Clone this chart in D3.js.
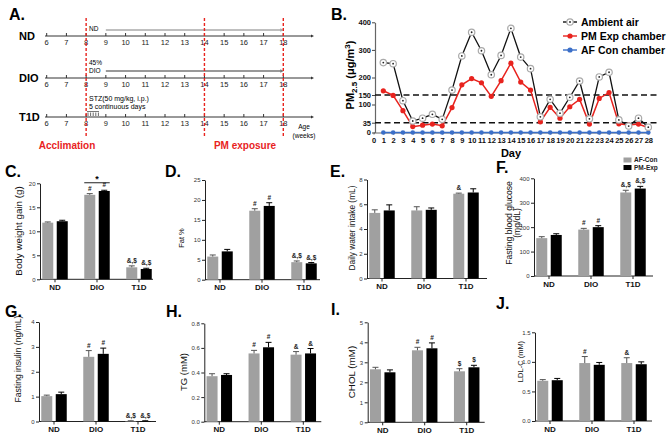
<!DOCTYPE html>
<html><head><meta charset="utf-8">
<script src="https://cdn.jsdelivr.net/npm/d3@7"></script>
<style>body{margin:0;background:#fff}svg{font-family:Arial,"Liberation Sans",sans-serif;display:block}</style>
</head><body>
<svg id="c" width="669" height="439"></svg>
<script>
// ---------- DATA ----------
const weeks = [6,7,8,9,10,11,12,13,14,15,16,17,18];
const timelineRows = ["ND","DIO","T1D"];
const markerWeeks = [8,14,18];
const days = [1,2,3,4,5,6,7,8,9,10,11,12,13,14,15,16,17,18,19,20,21,22,23,24,25,26,27,28];
const dayTicks = [0,1,2,3,4,5,6,7,8,9,10,11,12,13,14,15,16,17,18,19,20,21,22,23,24,25,26,27,28];
const ambientAir   = [254,250,120,41,51,65,47,164,278,364,297,210,280,378,274,232,56,127,69,138,190,49,202,219,45,23,51,19];
const pmExpChamber = [162,148,78,21,26,30,24,89,179,197,185,143,191,252,187,164,38,90,51,92,127,30,132,157,31,27,30,17];
const afConChamber = [0,0,0,0,0,0,0,0,0,0,0,0,0,0,0,0,0,0,0,0,0,0,0,0,0,0,0,0];
const pmTicks = [0,35,100,150,200,300,400];
const pmLimits = [150,35];

const groups = ["ND","DIO","T1D"];
const seriesNames = ["AF-Con","PM-Exp"];

const bwAF = [11.8,17.6,2.5],  bwAFErr = [0.15,0.25,0.3],  bwPM = [12.1,18.4,2.15], bwPMErr = [0.2,0.15,0.15];
const bwAFMark = ["","#","&,$"], bwPMMark = ["","#","&,$"];
const fatAF = [5.8,17.3,4.4], fatAFErr = [0.4,0.5,0.3], fatPM = [7.1,18.5,4.1], fatPMErr = [0.5,0.8,0.2];
const fatAFMark = ["","#","&,$"], fatPMMark = ["","#","&,$"];
const waterAF = [5.3,5.5,6.85], waterAFErr = [0.25,0.3,0.05], waterPM = [5.5,5.55,6.95], waterPMErr = [0.45,0.15,0.3];
const waterAFMark = ["","","&"], waterPMMark = ["","",""];
const gluAF = [155,190,342], gluAFErr = [6,5,9], gluPM = [168,200,358], gluPMErr = [5,6,9];
const gluAFMark = ["","#","&,$"], gluPMMark = ["","#","&,$"];
const insAF = [1.02,2.6,0.02], insAFErr = [0.04,0.25,0.01], insPM = [1.1,2.72,0.02], insPMErr = [0.08,0.23,0.01];
const insAFMark = ["","#","&,$"], insPMMark = ["","#","&,$"];
const tgAF = [0.37,0.555,0.545], tgAFErr = [0.02,0.025,0.025], tgPM = [0.38,0.605,0.555], tgPMErr = [0.01,0.04,0.04];
const tgAFMark = ["","#","&"], tgPMMark = ["","#","&"];
const cholAF = [2.65,3.6,2.55], cholAFErr = [0.1,0.15,0.13], cholPM = [2.5,3.7,2.75], cholPMErr = [0.12,0.27,0.1];
const cholAFMark = ["","#","$"], cholPMMark = ["","#","$"];
const ldlAF = [0.68,0.98,0.98], ldlAFErr = [0.02,0.11,0.09], ldlPM = [0.69,0.95,0.96], ldlPMErr = [0.03,0.04,0.04];
const ldlAFMark = ["","#","&"], ldlPMMark = ["","",""];

// ---------- DRAW ----------
const svg = d3.select("#c");
const RED = "#e8231e", GRAY = "#a0a0a0", BLUE = "#3b6fc8";

function panelLabel(t, x, y){
  svg.append("text").attr("x",x).attr("y",y).attr("font-size",16).attr("font-weight","bold").text(t);
}

// ===== Panel A =====
panelLabel("A.", 9, 20);
const wx = d3.scaleLinear().domain([6,18]).range([46.7,283.3]);
const rowY = {ND:36, DIO:78, T1D:117};
const gA = svg.append("g");
timelineRows.forEach(r=>{
  const y = rowY[r];
  gA.append("line").attr("x1",45).attr("x2",311).attr("y1",y).attr("y2",y).attr("stroke","#333").attr("stroke-width",1);
  gA.append("path").attr("d",`M311,${y-1.5}L314,${y}L311,${y+1.5}Z`).attr("fill","#333");
  gA.selectAll(null).data(weeks).enter().append("line")
    .attr("x1",d=>wx(d)).attr("x2",d=>wx(d)).attr("y1",y-3).attr("y2",y).attr("stroke","#333");
  gA.selectAll(null).data(weeks).enter().append("text")
    .attr("x",d=>wx(d)).attr("y",y+9).attr("text-anchor","middle").attr("font-size",7.5).attr("fill","#222").text(d=>d);
  gA.append("text").attr("x",19).attr("y",y+4).attr("font-size",11).attr("font-weight","bold").text(r);
});
gA.append("text").attr("x",89).attr("y",30.5).attr("font-size",6.5).text("ND");
function arrow(x1,x2,y,col){
  gA.append("line").attr("x1",x1).attr("x2",x2-2).attr("y1",y).attr("y2",y).attr("stroke",col).attr("stroke-width",1.3);
  gA.append("path").attr("d",`M${x2-3},${y-1.7}L${x2+0.5},${y}L${x2-3},${y+1.7}Z`).attr("fill",col);
}
arrow(wx(9), wx(18), 30, "#aaa");
gA.append("text").attr("x",89).attr("y",65).attr("font-size",6.5).text("45%");
gA.append("text").attr("x",89).attr("y",73).attr("font-size",6.5).text("DIO");
arrow(wx(9), wx(18), 71, "#777");
gA.append("text").attr("x",89).attr("y",101).attr("font-size",7).text("STZ(50 mg/kg, i.p.)");
gA.append("text").attr("x",89).attr("y",109).attr("font-size",7).text("5 continuous days");
gA.append("line").attr("x1",87).attr("x2",99).attr("y1",111.5).attr("y2",111.5).attr("stroke","#555").attr("stroke-width",0.8);
[0,1,2,3,4].forEach(i=>{
  const x = 88 + i*2.6;
  gA.append("line").attr("x1",x).attr("x2",x).attr("y1",112.5).attr("y2",116).attr("stroke","#444").attr("stroke-width",0.8);
});
markerWeeks.forEach(w=>{
  gA.append("line").attr("x1",wx(w)).attr("x2",wx(w)).attr("y1",18).attr("y2",137)
    .attr("stroke",RED).attr("stroke-width",1.4).attr("stroke-dasharray","3,2");
});
gA.append("text").attr("x",67).attr("y",149).attr("text-anchor","middle").attr("font-size",10).attr("font-weight","bold").attr("fill",RED).text("Acclimation");
gA.append("text").attr("x",245).attr("y",149).attr("text-anchor","middle").attr("font-size",10).attr("font-weight","bold").attr("fill",RED).text("PM exposure");
gA.append("text").attr("x",304).attr("y",129).attr("text-anchor","middle").attr("font-size",6.5).text("Age");
gA.append("text").attr("x",304).attr("y",137.5).attr("text-anchor","middle").attr("font-size",6.5).text("(weeks)");

// ===== Panel B =====
panelLabel("B.", 331, 20);
const bx = d3.scaleLinear().domain([0,28]).range([373.5,648.3]);
const by = d3.scaleLinear().domain([0,100,150,200,400]).range([132.5,104.5,95,77.5,22.3]);
const gB = svg.append("g");
const yaB = gB.append("g").attr("transform","translate(375,0)")
  .call(d3.axisLeft(by).tickValues(pmTicks).tickSize(3).tickSizeOuter(0));
yaB.select(".domain").attr("stroke","#666").attr("stroke-width",1.2);
yaB.selectAll(".tick line").attr("stroke","#444");
yaB.selectAll(".tick text").attr("font-size",7.5).attr("font-weight","bold").attr("font-family","Arial, Liberation Sans").attr("fill","#111").attr("x",-4);
const xaB = gB.append("g").attr("transform",`translate(0,${by(0)})`)
  .call(d3.axisBottom(bx).tickValues(dayTicks).tickSize(2).tickSizeOuter(0));
xaB.select(".domain").attr("stroke","#666");
xaB.selectAll(".tick line").attr("stroke","#666");
xaB.selectAll(".tick text").attr("font-size",7.5).attr("font-weight","bold").attr("font-family","Arial, Liberation Sans").attr("fill","#111").attr("y",5);
gB.append("text").attr("x",511).attr("y",156.5).attr("text-anchor","middle").attr("font-size",11).attr("font-weight","bold").text("Day");
const yl = gB.append("text").attr("transform","translate(354,75) rotate(-90)").attr("text-anchor","middle")
  .attr("font-size",11).attr("font-weight","bold");
yl.append("tspan").text("PM");
yl.append("tspan").attr("font-size",8).attr("dy",3).text("2.5");
yl.append("tspan").attr("dy",-3).text(" (\u03bcg/m");
yl.append("tspan").attr("font-size",8).attr("dy",-4).text("3");
yl.append("tspan").attr("dy",4).text(")");
pmLimits.forEach(v=>{
  gB.append("line").attr("x1",375).attr("x2",660).attr("y1",by(v)).attr("y2",by(v))
    .attr("stroke","#111").attr("stroke-width",1.5).attr("stroke-dasharray","6,3.5");
});
const line = d3.line().x((d,i)=>bx(days[i])).y(d=>by(d));
gB.append("path").attr("d",line(afConChamber)).attr("fill","none").attr("stroke",BLUE).attr("stroke-width",1.6);
gB.selectAll(null).data(afConChamber).enter().append("circle").attr("cx",(d,i)=>bx(days[i])).attr("cy",d=>by(d)).attr("r",2.3).attr("fill",BLUE);
gB.append("path").attr("d",line(pmExpChamber)).attr("fill","none").attr("stroke",RED).attr("stroke-width",1.5);
gB.selectAll(null).data(pmExpChamber).enter().append("circle").attr("cx",(d,i)=>bx(days[i])).attr("cy",d=>by(d)).attr("r",2.6).attr("fill",RED);
gB.append("path").attr("d",line(ambientAir)).attr("fill","none").attr("stroke","#111").attr("stroke-width",1.3);
gB.selectAll(null).data(ambientAir).enter().append("circle").attr("cx",(d,i)=>bx(days[i])).attr("cy",d=>by(d)).attr("r",3.2).attr("fill","#fff").attr("stroke","#aaa").attr("stroke-width",1.2);
gB.selectAll(null).data(ambientAir).enter().append("circle").attr("cx",(d,i)=>bx(days[i])).attr("cy",d=>by(d)).attr("r",0.9).attr("fill","#222");
const legB = [["Ambient air","amb"],["PM Exp chamber","pm"],["AF Con chamber","af"]];
legB.forEach((l,i)=>{
  const y = 22 + i*14;
  const col = l[1]==="amb" ? "#111" : l[1]==="pm" ? RED : BLUE;
  gB.append("line").attr("x1",563).attr("x2",577).attr("y1",y).attr("y2",y).attr("stroke",col).attr("stroke-width",1.4);
  if(l[1]==="amb"){
    gB.append("circle").attr("cx",570).attr("cy",y).attr("r",3.2).attr("fill","#fff").attr("stroke","#aaa").attr("stroke-width",1.2);
    gB.append("circle").attr("cx",570).attr("cy",y).attr("r",0.9).attr("fill","#222");
  } else {
    gB.append("circle").attr("cx",570).attr("cy",y).attr("r",2.6).attr("fill",col);
  }
  gB.append("text").attr("x",581).attr("y",y+3.7).attr("font-size",10.5).attr("font-weight","bold").text(l[0]);
});

// ===== Bar panels =====
function barPanel(cfg, af, afErr, pm, pmErr, afMark, pmMark){
  const g = svg.append("g");
  panelLabel(cfg.label, cfg.lxp, cfg.lyp);
  const x = d3.scaleBand().domain(groups).range([cfg.x0-6, cfg.x0+120]);
  const xs = d3.scaleBand().domain(seriesNames).range([0, x.bandwidth()]).paddingInner(0.24).paddingOuter(0.57);
  const y = d3.scaleLinear().domain([0,cfg.max]).range([cfg.y0,cfg.y1]);
  const ya = g.append("g").attr("transform",`translate(${cfg.x0},0)`)
    .call(d3.axisLeft(y).tickValues(cfg.ticks).tickSize(3).tickSizeOuter(0).tickFormat(cfg.fmt||d3.format("d")));
  ya.select(".domain").attr("stroke","#222");
  ya.selectAll(".tick line").attr("stroke","#222");
  ya.selectAll(".tick text").attr("font-size",6).attr("font-family","Arial, Liberation Sans").attr("fill","#333").attr("x",-4.5);
  const xa = g.append("g").attr("transform",`translate(0,${cfg.y0})`)
    .call(d3.axisBottom(x).tickSize(3).tickSizeOuter(0));
  xa.select(".domain").remove();
  xa.selectAll(".tick line").attr("stroke","#222");
  xa.selectAll(".tick text").attr("font-size",8).attr("font-weight","bold").attr("font-family","Arial, Liberation Sans").attr("fill","#111").attr("y",5);
  g.append("line").attr("x1",cfg.x0).attr("x2",cfg.x0+cfg.w).attr("y1",cfg.y0).attr("y2",cfg.y0).attr("stroke","#222");
  const series = [[af,afErr,afMark,GRAY,"#555"],[pm,pmErr,pmMark,"#000","#000"]];
  series.forEach((s,si)=>{
    groups.forEach((gname,gi)=>{
      const bx0 = x(gname)+xs(seriesNames[si]), bw = xs.bandwidth(), cx = bx0+bw/2;
      const v = s[0][gi], e = s[1][gi];
      g.append("rect").attr("x",bx0).attr("y",y(v)).attr("width",bw).attr("height",cfg.y0-y(v)).attr("fill",s[3]);
      g.append("line").attr("x1",cx).attr("x2",cx).attr("y1",y(v)).attr("y2",y(v+e)).attr("stroke",s[4]).attr("stroke-width",1);
      g.append("line").attr("x1",cx-3).attr("x2",cx+3).attr("y1",y(v+e)).attr("y2",y(v+e)).attr("stroke",s[4]).attr("stroke-width",1);
      if(s[2][gi]) g.append("text").attr("x",cx).attr("y",y(v+e)-3).attr("text-anchor","middle").attr("font-size",6.5).attr("font-weight","bold").attr("fill","#222").text(s[2][gi]);
    });
  });
  if(cfg.star){
    const gi = groups.indexOf(cfg.star);
    const top = Math.max(af[gi]+afErr[gi], pm[gi]+pmErr[gi]);
    const yy = y(top)-7.5;
    const xL = x(cfg.star)+xs(seriesNames[0]), xR = x(cfg.star)+xs(seriesNames[1])+xs.bandwidth();
    g.append("line").attr("x1",xL).attr("x2",xR).attr("y1",yy).attr("y2",yy).attr("stroke","#222");
    g.append("text").attr("x",(xL+xR)/2).attr("y",yy-1).attr("text-anchor","middle").attr("font-size",9).attr("font-weight","bold").text("*");
  }
  const t = g.append("text").attr("transform",`translate(${cfg.lx},${cfg.ly}) rotate(-90)`).attr("text-anchor","middle")
    .attr("font-size",cfg.fs).attr("fill","#111");
  cfg.ylabel.forEach((s,i)=>{ t.append("tspan").attr("x",0).attr("dy", i===0 ? 0 : cfg.fs*0.95).text(s); });
  return {x, xs, y};
}

barPanel({label:"C.",lxp:5,lyp:177,x0:40,y0:279.3,y1:183.3,max:20,ticks:[0,5,10,15,20],w:113,
  ylabel:["Body weight gain (g)"],lx:21.5,ly:231,fs:9.8,star:"DIO"}, bwAF,bwAFErr,bwPM,bwPMErr,bwAFMark,bwPMMark);
barPanel({label:"D.",lxp:165,lyp:177,x0:205,y0:279.7,y1:180,max:25,ticks:[0,5,10,15,20,25],w:115,
  ylabel:["Fat %"],lx:183.5,ly:238,fs:7.5}, fatAF,fatAFErr,fatPM,fatPMErr,fatAFMark,fatPMMark);
barPanel({label:"E.",lxp:330,lyp:177,x0:367,y0:278.5,y1:179.5,max:8,ticks:[0,2,4,6,8],w:120,
  ylabel:["Daily water intake (mL)"],lx:354.5,ly:228,fs:8.3}, waterAF,waterAFErr,waterPM,waterPMErr,waterAFMark,waterPMMark);
barPanel({label:"F.",lxp:496,lyp:172.5,x0:534,y0:276,y1:178.3,max:400,ticks:[0,100,200,300,400],w:119,
  ylabel:["Fasting blood glucose","(mg/dL)"],lx:511.5,ly:223,fs:8.6}, gluAF,gluAFErr,gluPM,gluPMErr,gluAFMark,gluPMMark);
barPanel({label:"G.",lxp:5,lyp:317,x0:39,y0:421.5,y1:322,max:4,ticks:[0,1,2,3,4],w:117,
  ylabel:["Fasting insulin (ng/mL)"],lx:20.5,ly:359,fs:8.6}, insAF,insAFErr,insPM,insPMErr,insAFMark,insPMMark);
barPanel({label:"H.",lxp:166,lyp:317,x0:204.3,y0:421.7,y1:323.3,max:0.8,ticks:[0,0.2,0.4,0.6,0.8],w:117,fmt:d3.format(".1f"),
  ylabel:["TG (mM)"],lx:186.5,ly:372,fs:9.5}, tgAF,tgAFErr,tgPM,tgPMErr,tgAFMark,tgPMMark);
barPanel({label:"I.",lxp:331,lyp:315,x0:367.7,y0:422.3,y1:322.3,max:5,ticks:[0,1,2,3,4,5],w:117,
  ylabel:["CHOL (mM)"],lx:355,ly:372,fs:9.8}, cholAF,cholAFErr,cholPM,cholPMErr,cholAFMark,cholPMMark);
barPanel({label:"J.",lxp:496,lyp:309,x0:535,y0:421,y1:332.3,max:1.5,ticks:[0,0.5,1,1.5],w:117,fmt:d3.format(".1f"),
  ylabel:["LDL-C (mM)"],lx:522.5,ly:361.5,fs:7.5}, ldlAF,ldlAFErr,ldlPM,ldlPMErr,ldlAFMark,ldlPMMark);

const legBar = svg.append("g");
seriesNames.forEach((s,i)=>{
  const y = 157.5 + i*7.5;
  legBar.append("rect").attr("x",623.5).attr("y",y).attr("width",8).attr("height",5).attr("fill", i===0 ? GRAY : "#000");
  legBar.append("text").attr("x",634).attr("y",y+4.8).attr("font-size",6.5).attr("font-weight","bold").attr("fill","#222").text(s);
});
</script>
</body></html>
